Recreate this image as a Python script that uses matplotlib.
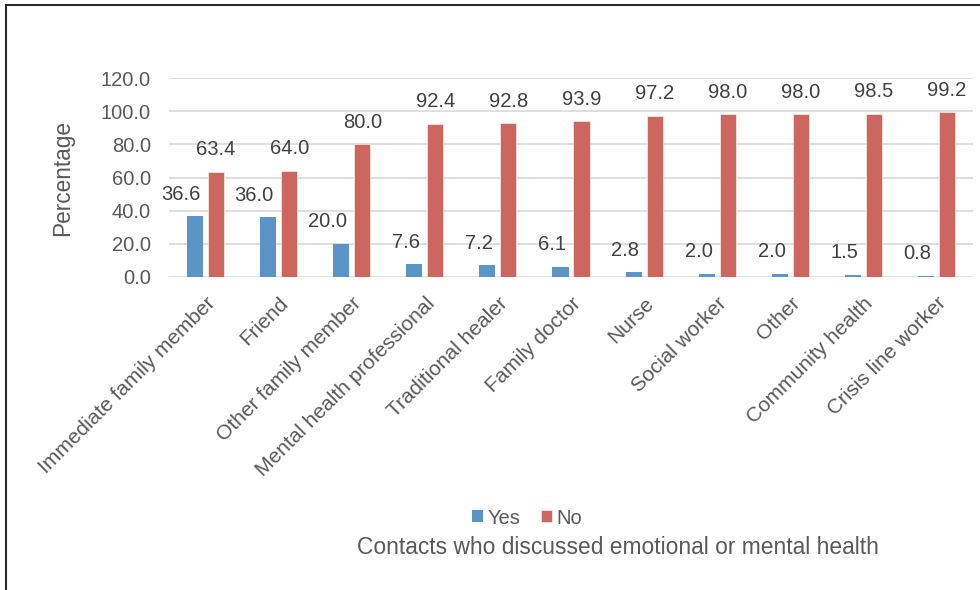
import matplotlib
matplotlib.use("Agg")
from matplotlib import pyplot as plt
from matplotlib.lines import Line2D
from matplotlib.transforms import ScaledTranslation
import numpy as np

# contact types and the share (%) who did / did not discuss emotional or mental health
contacts = ["Immediate family member", "Friend", "Other family member",
            "Mental health professional", "Traditional healer", "Family doctor",
            "Nurse", "Social worker", "Other", "Community health",
            "Crisis line worker"]
yes_pct = [36.6, 36.0, 20.0, 7.6, 7.2, 6.1, 2.8, 2.0, 2.0, 1.5, 0.8]
no_pct = [63.4, 64.0, 80.0, 92.4, 92.8, 93.9, 97.2, 98.0, 98.0, 98.5, 99.2]
y_ticks = [0, 20, 40, 60, 80, 100, 120]

plt.rcParams['font.family'] = ['Liberation Sans', 'DejaVu Sans']
text_col = "#595959"
blue = "#5b95c8"
red = "#cd665f"

fig = plt.figure(figsize=(9.8, 5.9), dpi=100)
ax = fig.add_axes([169/980, 1 - 277/590, 804/980, 199/590])

x = np.arange(len(contacts))
w = 0.22
off = 0.144
ax.bar(x - off, yes_pct, w, color=blue, edgecolor="none", label="Yes", zorder=3)
ax.bar(x + off, no_pct, w, color=red, edgecolor="white", linewidth=0.4, label="No", zorder=3)

# value labels above the bars
for i in range(len(contacts)):
    ax.annotate("%.1f" % yes_pct[i], (x[i] - 0.065, yes_pct[i]), xytext=(0, 9),
                textcoords="offset points", ha="right", va="bottom",
                fontsize=14.5, color="#404040")
    ax.annotate("%.1f" % no_pct[i], (x[i] + off, no_pct[i]), xytext=(0, 9),
                textcoords="offset points", ha="center", va="bottom",
                fontsize=14.5, color="#404040")

ax.set_xlim(-0.5, len(contacts) - 0.5)
ax.set_ylim(0, 120)
ax.set_yticks(y_ticks)
ax.set_yticklabels(["%.1f" % t for t in y_ticks])
ax.set_xticks(x)
ax.set_xticklabels(contacts, rotation=45, ha="right", va="top", rotation_mode="anchor")
shift = ScaledTranslation(-3/100, 0, fig.dpi_scale_trans)
for lbl in ax.get_xticklabels():
    lbl.set_transform(lbl.get_transform() + shift)
ax.tick_params(axis="y", length=0, pad=13, labelsize=14.5, labelcolor=text_col)
ax.tick_params(axis="x", length=0, pad=12, labelsize=15, labelcolor=text_col)
ax.grid(axis="y", color="#d9d9d9", linewidth=1.2, zorder=0)
ax.set_axisbelow(True)
for s in ax.spines.values():
    s.set_visible(False)

ax.set_ylabel("Percentage", fontsize=16.3, color=text_col)
ax.yaxis.set_label_coords(-0.118, 0.5)

fig.legend(loc="center", bbox_to_anchor=(527/980, 1 - 518/590), ncol=2, frameon=False,
           fontsize=14.5, handlelength=0.55, handleheight=0.55, handletextpad=0.25,
           columnspacing=1.0, labelcolor=text_col)
fig.text(618/980, 1 - 548/590, "Contacts who discussed emotional or mental health",
         ha="center", va="center", fontsize=16.4, color=text_col)

# outer frame (left and top edges)
fig.add_artist(Line2D([6/980, 6/980], [0, 1 - 5/590], color="#2b2b2b", lw=1.5))
fig.add_artist(Line2D([6/980, 1], [1 - 5/590, 1 - 5/590], color="#2b2b2b", lw=1.5))

fig.savefig("out.png", dpi=100)
